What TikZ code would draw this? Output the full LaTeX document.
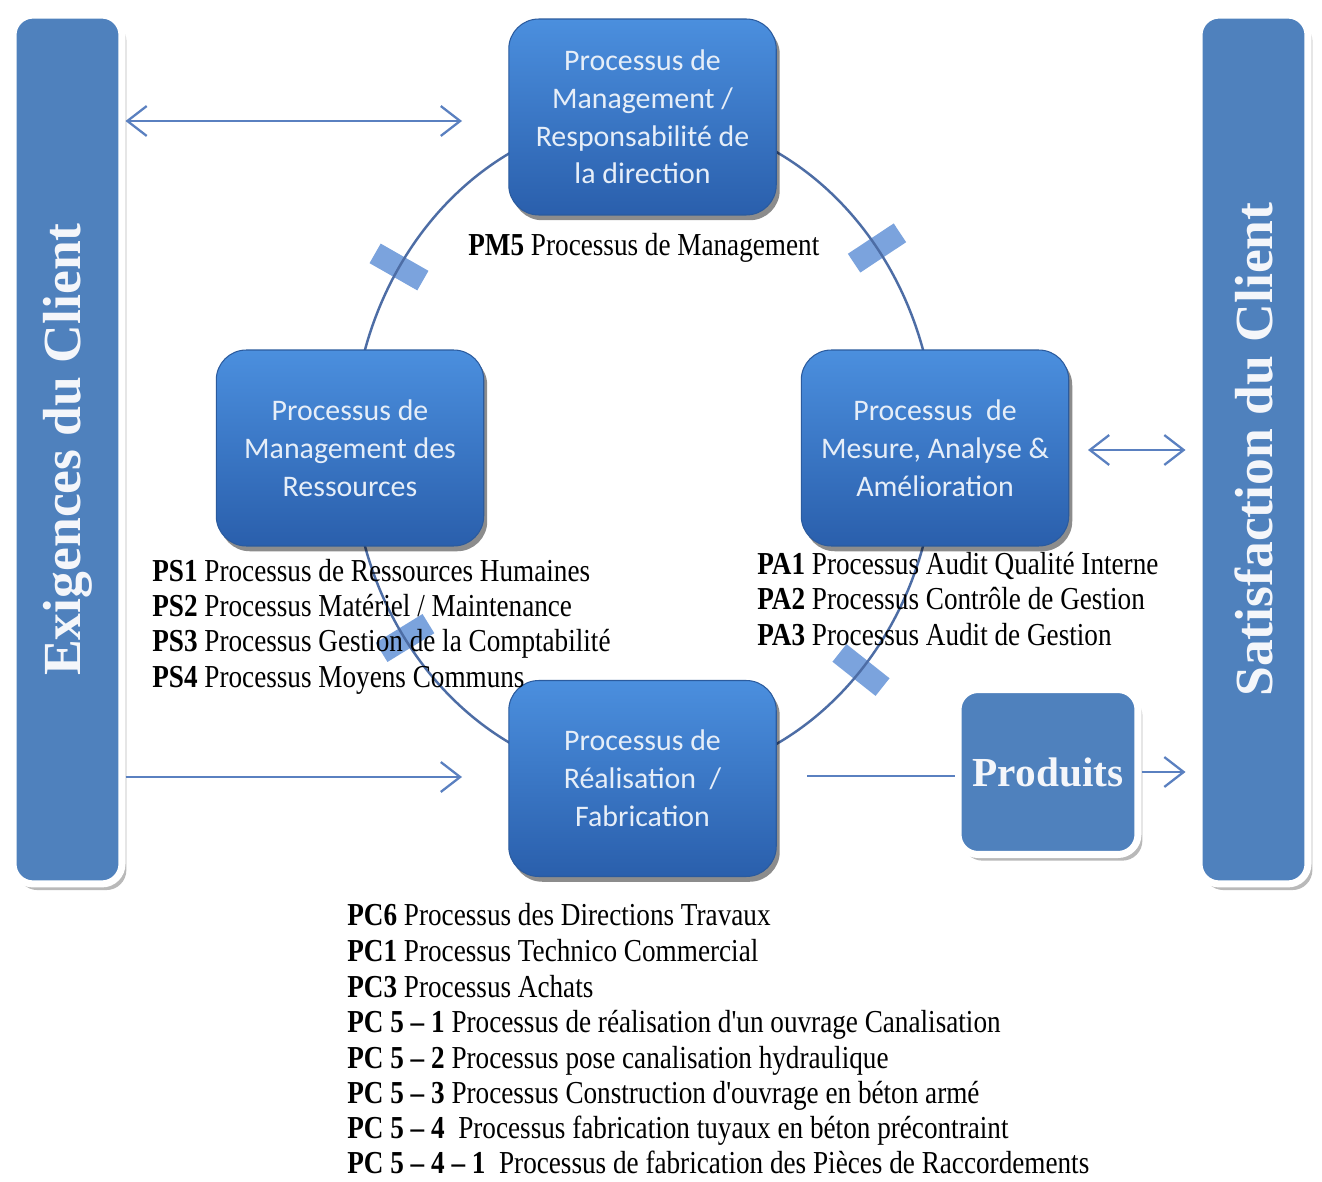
\documentclass[tikz,border=0pt]{standalone}
\usepackage{fontspec}
\setmainfont{Liberation Serif}
\newfontfamily\boxfont{Carlito}
\newfontfamily\listfont[FakeStretch=0.85]{Liberation Serif}
\usetikzlibrary{arrows.meta,shadows}

\definecolor{barblue}{HTML}{4F81BD}
\definecolor{barfg}{HTML}{F4F6FA}
\definecolor{boxtop}{HTML}{4B8FDE}
\definecolor{boxbot}{HTML}{2A5FAC}
\definecolor{boxedge}{HTML}{2B5B9E}
\definecolor{boxfg}{HTML}{E6EEF8}
\definecolor{arcline}{HTML}{4D6DA5}
\definecolor{tabblue}{HTML}{7BA3DD}
\definecolor{arrowblue}{HTML}{5A80C0}

\tikzset{
  procbox/.style={rounded corners=0.6cm, minimum width=5.35cm, minimum height=3.92cm,
    top color=boxtop, bottom color=boxbot, draw=boxedge, line width=0.6pt,
    text=boxfg, align=center, inner sep=2pt,
    font=\boxfont\fontsize{17}{21.5}\selectfont,
    drop shadow={shadow xshift=2pt, shadow yshift=-3pt, opacity=0.45, fill=black}},
  sidebar/.style={rounded corners=0.4cm, fill=barblue, draw=white, line width=4pt,
    minimum width=2.18cm, minimum height=17.38cm, inner sep=0pt,
    drop shadow={shadow xshift=2.5pt, shadow yshift=-3.5pt, opacity=0.55, fill=gray}},
  bartext/.style={rotate=90, text=barfg, inner sep=0pt,
    font=\bfseries\fontsize{30.5}{36}\selectfont},
  prodbox/.style={rounded corners=0.4cm, fill=barblue, draw=white, line width=4pt,
    minimum width=3.6cm, minimum height=3.3cm, inner sep=0pt, text=barfg,
    font=\bfseries\fontsize{23.5}{28}\selectfont,
    drop shadow={shadow xshift=2.5pt, shadow yshift=-3.5pt, opacity=0.55, fill=gray}},
  arctab/.style={fill=tabblue, minimum width=1.1cm, minimum height=0.45cm, inner sep=0pt},
  conn/.style={draw=arrowblue, line width=1.3pt},
  >={Straight Barb[length=11pt,width=17pt,line width=1.3pt]},
  item/.style={anchor=base west, inner sep=0pt, font=\listfont\fontsize{18.2}{20}\selectfont}
}

\begin{document}
\begin{tikzpicture}[x=0.02cm, y=-0.02cm]
  % page
  \fill[white] (0,0) rectangle (1322,1182);
  \useasboundingbox (0,0) rectangle (1322,1182);

  % tabs sitting across the process cycle
  \node[arctab, rotate=150.3] (tab1) at (399,267) {};
  \node[arctab, rotate=33.5]  (tab2) at (877,248) {};
  \node[arctab, rotate=31.6]  (tab3) at (405,638) {};
  \node[arctab, rotate=-38.4] (tab4) at (861,670) {};

  % process cycle
  \draw[arcline, line width=1.4pt] (644,448) ellipse [x radius=292, y radius=332];

  % side bars
  \node[sidebar] (lbar) at (67.5,449.5) {};
  \node[bartext] (ltext) at (lbar.center) {Exigences du Client};
  \node[sidebar] (rbar) at (1253.5,449.5) {};
  \node[bartext] (rtext) at (rbar.center) {Satisfaction du Client};

  % process boxes
  \node[procbox] (mgmt) at (642.5,117) {Processus de\\Management /\\Responsabilité de\\la direction};
  \node[procbox] (res)  at (350,448) {Processus de\\Management des\\Ressources};
  \node[procbox] (mes)  at (935,448) {Processus\ \ de\\Mesure, Analyse \&\\Amélioration};
  \node[procbox] (real) at (642.5,778.5) {Processus de\\Réalisation\ \ /\\Fabrication};

  % product box
  \node[prodbox] (prod) at (1048,772) {Produits};

  % connectors
  \coordinate (mgmtIn) at (462,121);
  \draw[conn,<->] (lbar.east |- mgmtIn) -- (mgmtIn);
  \coordinate (realIn) at (462,777);
  \draw[conn,->] (lbar.east |- realIn) -- (realIn);
  \coordinate (mesOut) at (1088,450);
  \draw[conn,<->, shorten >=0.2cm] (mesOut) -- (rbar.west |- mesOut);
  \coordinate (realOut) at (807,776);
  \draw[conn] (realOut) -- (prod.west |- realOut);
  \draw[conn,->, shorten >=0.2cm] (prod.east) -- (rbar.west |- prod.east);

  % process lists
  \node[item] (pm5) at (468,256) {\textbf{PM5} Processus de Management};

  \node[item] (ps1) at (152,581) {\textbf{PS1} Processus de Ressources Humaines};
  \node[item] (ps2) at (152,616) {\textbf{PS2} Processus Matériel / Maintenance};
  \node[item] (ps3) at (152,651) {\textbf{PS3} Processus Gestion de la Comptabilité};
  \node[item] (ps4) at (152,687) {\textbf{PS4} Processus Moyens Communs};

  \node[item] (pa1) at (757,574) {\textbf{PA1} Processus Audit Qualité Interne};
  \node[item] (pa2) at (757,609) {\textbf{PA2} Processus Contrôle de Gestion};
  \node[item] (pa3) at (757,645) {\textbf{PA3} Processus Audit de Gestion};

  \node[item] (pc6)  at (347,925)  {\textbf{PC6} Processus des Directions Travaux};
  \node[item] (pc1)  at (347,961)  {\textbf{PC1} Processus Technico Commercial};
  \node[item] (pc3)  at (347,997)  {\textbf{PC3} Processus Achats};
  \node[item] (pc51) at (347,1032) {\textbf{PC 5 – 1} Processus de réalisation d'un ouvrage Canalisation};
  \node[item] (pc52) at (347,1068) {\textbf{PC 5 – 2} Processus pose canalisation hydraulique};
  \node[item] (pc53) at (347,1103) {\textbf{PC 5 – 3} Processus Construction d'ouvrage en béton armé};
  \node[item] (pc54) at (347,1138) {\textbf{PC 5 – 4}\ \ Processus fabrication tuyaux en béton précontraint};
  \node[item] (pc541) at (347,1173) {\textbf{PC 5 – 4 – 1}\ \ Processus de fabrication des Pièces de Raccordements};
\end{tikzpicture}
\end{document}
